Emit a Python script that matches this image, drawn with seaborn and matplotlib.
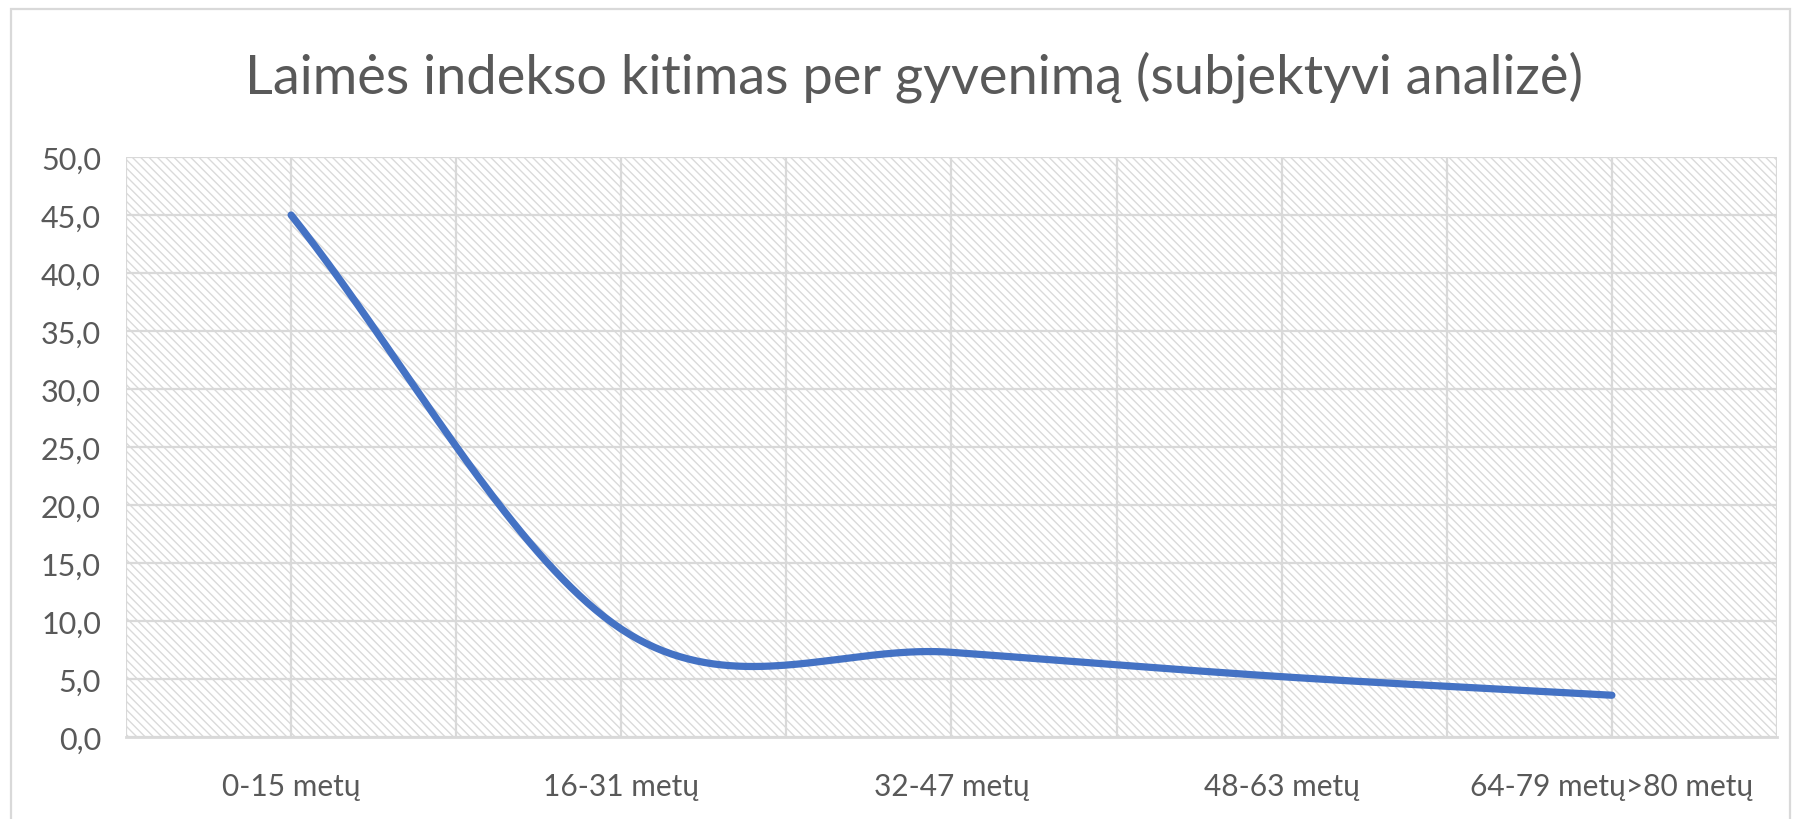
import numpy as np
import pandas as pd
import matplotlib.pyplot as plt
from matplotlib.patches import Rectangle
import seaborn as sns

# Duomenys
amziaus_grupes = ["0-15 metų", "16-31 metų", "32-47 metų", "48-63 metų", "64-79 metų>80 metų"]
laimes_indeksas = [45.0, 9.3, 7.3, 5.2, 3.6]
y_ticks = [0, 5, 10, 15, 20, 25, 30, 35, 40, 45, 50]
pavadinimas = "Laimės indekso kitimas per gyvenimą (subjektyvi analizė)"

line_color = "#4472C4"
text_color = "#595959"
grid_color = "#D9D9D9"


def smooth_line(values, n=80):
    # Excel stiliaus "smoothed line" (Catmull-Rom, galuose tiesesnis)
    p = np.asarray(values, dtype=float)
    k = len(p)
    m = np.zeros(k)
    m[1:-1] = (p[2:] - p[:-2]) / 2
    m[0] = p[1] - p[0]
    m[-1] = p[-1] - p[-2]
    xs, ys = [], []
    for i in range(k - 1):
        t = np.linspace(0, 1, n)
        h00 = 2 * t**3 - 3 * t**2 + 1
        h10 = t**3 - 2 * t**2 + t
        h01 = -2 * t**3 + 3 * t**2
        h11 = t**3 - t**2
        xs.append(i + t)
        ys.append(h00 * p[i] + h10 * m[i] + h01 * p[i + 1] + h11 * m[i + 1])
    return np.concatenate(xs), np.concatenate(ys)


sx, sy = smooth_line(laimes_indeksas)
df = pd.DataFrame({"x": sx, "y": sy})

sns.set_style("white")
plt.rcParams["font.family"] = ["Lato", "DejaVu Sans"]
plt.rcParams["hatch.linewidth"] = 1.0

fig = plt.figure(figsize=(17.99, 8.20), dpi=100)
ax = fig.add_axes([126 / 1799, 1 - 738 / 820, (1777 - 126) / 1799, (738 - 158) / 820])

# užbrūkšniuotas fonas
ax.patch.set_alpha(0)
ax.add_patch(Rectangle((0, 0), 1, 1, transform=ax.transAxes, facecolor="white",
                       edgecolor="#DADADA", hatch="\\\\\\\\", linewidth=0, zorder=0))

sns.lineplot(data=df, x="x", y="y", color=line_color, linewidth=5.2, ax=ax,
             solid_capstyle="round", zorder=3)

ax.set_xlim(-0.5, len(amziaus_grupes) - 0.5)
ax.set_ylim(0, 50)
ax.set_xticks(range(len(amziaus_grupes)))
ax.set_xticklabels(amziaus_grupes)
ax.set_xticks(np.arange(-0.5, len(amziaus_grupes), 1.0), minor=True)
ax.set_yticks(y_ticks)
ax.set_yticklabels([f"{v:.1f}".replace(".", ",") for v in y_ticks])

ax.grid(True, which="both", axis="x", color=grid_color, linewidth=1.6, zorder=1)
ax.grid(True, which="major", axis="y", color=grid_color, linewidth=1.6, zorder=1)
ax.set_axisbelow(True)

ax.tick_params(axis="both", which="both", length=0, labelcolor=text_color)
ax.tick_params(axis="x", labelsize=21.5, pad=25)
ax.tick_params(axis="y", labelsize=22, pad=18)
ax.set_xlabel("")
ax.set_ylabel("")

for side in ["top", "right", "left"]:
    ax.spines[side].set_visible(False)
ax.spines["bottom"].set_color(grid_color)
ax.spines["bottom"].set_linewidth(2)

fig.text(914 / 1799, 1 - 77 / 820, pavadinimas, ha="center", va="center",
         fontsize=39, color=text_color)

# diagramos rėmelis
fig.patches.append(Rectangle((11 / 1799, -0.05), (1790 - 11) / 1799, 1.05 - 10 / 820,
                             transform=fig.transFigure, fill=False,
                             edgecolor=grid_color, linewidth=1.6))

fig.savefig("out.png", dpi=100)
